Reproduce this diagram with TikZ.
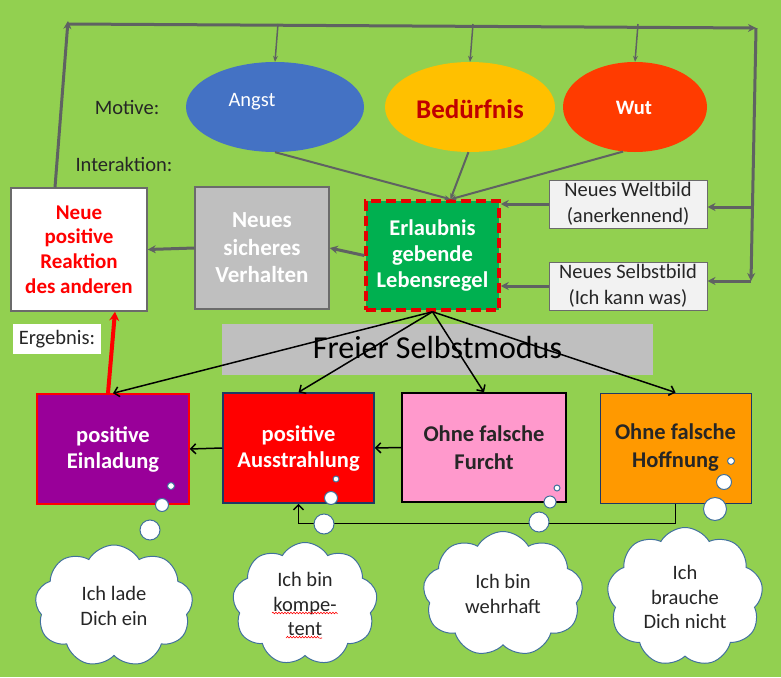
\documentclass[tikz,border=0pt]{standalone}
\usepackage{fontspec}
\setmainfont{Carlito}
\usetikzlibrary{arrows.meta,shapes.geometric,shapes.symbols,decorations.pathmorphing}
\definecolor{wiese}{HTML}{92D050}
\definecolor{pfeilgrau}{HTML}{5F6262}
\definecolor{angstblau}{HTML}{4472C4}
\definecolor{gold}{HTML}{FFC000}
\definecolor{dunkelrot}{HTML}{C00000}
\definecolor{wutrot}{HTML}{FF3B00}
\definecolor{regelgruen}{HTML}{00B050}
\definecolor{hellgrau}{HTML}{BFBFBF}
\definecolor{rahmengrau}{HTML}{6B6B6B}
\definecolor{fastweiss}{HTML}{F2F2F2}
\definecolor{lila}{HTML}{990099}
\definecolor{rosa}{HTML}{FF99CC}
\definecolor{hoffnungorange}{HTML}{FF9900}
\definecolor{marine}{HTML}{1F3864}
\definecolor{wolkenrand}{HTML}{41719C}
\begin{document}
\begin{tikzpicture}[x=1pt, y=-1pt,
    every node/.style={font=\fontsize{20.5}{24.5}\selectfont, text=black!85},
    motiv/.style={ellipse, minimum height=90},
    kasten/.style={rectangle, align=center, line width=1.5pt, inner sep=2pt,
        font=\bfseries\fontsize{22.5}{26}\selectfont},
    bild/.style={rectangle, align=center, draw=rahmengrau, fill=fastweiss, line width=1pt,
        minimum width=158, minimum height=48, inner sep=1pt, font=\fontsize{20.5}{25.5}\selectfont},
    wolke/.style={cloud, cloud puffs=9, cloud puff arc=120, cloud ignores aspect,
        draw=wolkenrand, fill=white, line width=1pt, align=center},
    blase/.style={draw=wolkenrand, fill=white, line width=1pt},
    dick/.style={draw=pfeilgrau, line width=3pt, -{Stealth[length=8pt,width=8pt]}},
    duenn/.style={draw=pfeilgrau, line width=1.5pt, -{Stealth[length=6pt,width=5pt]}},
    schwarz/.style={draw=black, line width=1.5pt, -{Straight Barb[length=5pt,width=10pt]}}]
    \fill[wiese] (0,0) rectangle (781,677);
    \useasboundingbox (0,0) rectangle (781,677);

    \node[motiv, fill=angstblau, minimum width=178] (angst) at (275,107) {};
    \node[text=white] (angsttext) at (252,102) {Angst};
    \node[motiv, fill=gold, minimum width=170] (beduerfnis) at (470,107) {};
    \node[text=dunkelrot, font=\bfseries\fontsize{27}{31}\selectfont] (beduerfnistext) at (470,109) {Bedürfnis};
    \node[motiv, fill=wutrot, minimum width=144] (wut) at (635,107) {};
    \node[text=white, font=\bfseries\fontsize{20.5}{24}\selectfont] (wuttext) at (634,108) {Wut};
    \node (motive) at (127,107) {Motive:};
    \node (interaktion) at (124,164) {Interaktion:};

    \node[kasten, fill=regelgruen, text=white, draw=red!90!black, line width=3.5pt,
        dash pattern=on 10pt off 5pt, minimum width=133, minimum height=109] (regel) at (432.5,255.5)
        {Erlaubnis\\gebende\\Lebensregel};
    \node[kasten, fill=hellgrau, draw=rahmengrau, text=white, minimum width=134, minimum height=122,
        font=\bfseries\fontsize{23}{27.5}\selectfont] (verhalten) at (262,248) {Neues\\sicheres\\Verhalten};
    \node[kasten, fill=white, draw=rahmengrau, text=red, minimum width=136, minimum height=123,
        font=\bfseries\fontsize{21}{24.7}\selectfont] (reaktion) at (79,249.5)
        {Neue\\positive\\Reaktion\\des anderen};
    \node[bild] (weltbild) at (628,204) {Neues Weltbild\\(anerkennend)};
    \node[bild] (selbstbild) at (628,286) {Neues Selbstbild\\(Ich kann was)};
    \node[fill=white, minimum width=88, minimum height=30, inner sep=1pt] (ergebnis) at (57,339) {Ergebnis:};
    \node[fill=hellgrau, minimum width=431, minimum height=51, font=\fontsize{32}{36}\selectfont,
        text=black, text depth=4pt] (modus) at (437.5,349.5) {Freier Selbstmodus};

    \node[kasten, fill=lila, draw=red, text=white, minimum width=152, minimum height=110]
        (einladung) at (113,449) {positive\\Einladung};
    \node[kasten, fill=red, draw=marine, text=white, minimum width=151, minimum height=110]
        (ausstrahlung) at (298.5,448) {positive\\Ausstrahlung};
    \node[kasten, fill=rosa, draw=black, text=black!85, minimum width=164, minimum height=109,
        font=\bfseries\fontsize{22.5}{28}\selectfont] (furcht) at (484,447.5) {Ohne falsche\\Furcht};
    \node[kasten, fill=hoffnungorange, draw=marine, line width=1pt, text=black!85, minimum width=151,
        minimum height=110, font=\bfseries\fontsize{22.5}{28}\selectfont] (hoffnung) at (675.5,448)
        {Ohne falsche\\Hoffnung};

    \coordinate (tl) at (68,24);
    \coordinate (tr) at (756,28);
    \coordinate (br) at (751,281);
    \coordinate (wb) at (752,207);
    \draw[dick] ([xshift=-24]reaktion.north) -- ([yshift=3]tl);
    \draw[dick] (tl) -- (tr);
    \draw[dick] (tr) -- (br);
    \draw[dick] (wb) -- (wb -| weltbild.east);
    \draw[dick] (br) -- (br -| selbstbild.east);
    \foreach \m in {angst, beduerfnis, wut}
        \draw[duenn] ([xshift=3]tl -| \m.north) -- (\m.north);
    \foreach \m/\w in {angst/-90, beduerfnis/-92, wut/-105}
        \draw[duenn, line width=2pt] (\m.\w) -- ([xshift=18]regel.north);
    \draw[dick] (regel.west) -- (verhalten.east);
    \draw[dick] (verhalten.west) -- (reaktion.east);
    \draw[dick] (weltbild.west) -- (weltbild.west -| regel.east);
    \draw[dick] (selbstbild.west) -- (selbstbild.west -| regel.east);

    \foreach \z in {einladung, ausstrahlung, furcht, hoffnung}
        \draw[schwarz] (regel.south) -- (\z.north);
    \draw[draw=red, line width=4pt, -{Stealth[length=9pt,width=10pt]}]
        ([xshift=-5]einladung.north) -- ([xshift=36]reaktion.south);
    \draw[schwarz] (ausstrahlung.west) -- (einladung.east);
    \draw[schwarz] (furcht.west) -- (ausstrahlung.east);
    \draw[schwarz] (hoffnung.south) -- ++(0,20) -| (ausstrahlung.south);

    \node[wolke, minimum width=158, minimum height=122] (wolke1) at (114,606) {Ich lade\\Dich ein};
    \node[wolke, minimum width=145, minimum height=123] (wolke2) at (305,604) {Ich bin\\kompe-\\tent};
    \node[wolke, minimum width=160, minimum height=125] (wolke3) at (503,594) {Ich bin\\wehrhaft};
    \node[wolke, minimum width=156, minimum height=139] (wolke4) at (685,597) {Ich\\brauche\\Dich nicht};
    \foreach \x/\y/\r in {171/486/3.5, 162/505/6.5, 150/530/10, 336/479/3, 331/498/6.5, 324/524/10,
        557/488/3, 550/502/6, 539/522/10, 731/461/3.5, 724/482/7.5, 715/509/11.5}
        \draw[blase] (\x,\y) circle (\r pt);
    \draw[red, line width=0.6pt, decorate, decoration={snake, amplitude=0.8pt, segment length=3pt}]
        (272,613) -- (336,613) (286,638) -- (322,638);
\end{tikzpicture}
\end{document}
